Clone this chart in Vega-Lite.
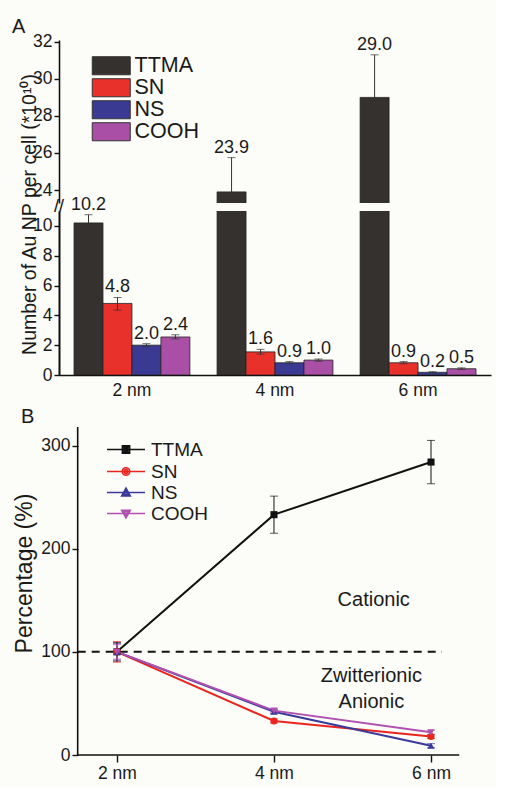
{
  "$schema": "https://vega.github.io/schema/vega-lite/v6.json",
  "background": "#fcfcf8",
  "padding": {"left": 12, "top": 16, "right": 5, "bottom": 5},
  "config": {
    "font": "Liberation Sans",
    "view": {"stroke": null},
    "axis": {
      "labelFont": "Liberation Sans", "titleFont": "Liberation Sans",
      "labelFontSize": 17.5, "titleFontSize": 20, "titleFontWeight": "normal",
      "labelColor": "#1a1a1a", "titleColor": "#1a1a1a",
      "domainColor": "#111111", "tickColor": "#111111",
      "domainWidth": 1.6, "tickWidth": 1.4, "grid": false, "labelOverlap": false
    },
    "legend": {"padding": 0, "labelFont": "Liberation Sans", "labelColor": "#1a1a1a"},
    "title": {"fontWeight": "normal", "font": "Liberation Sans", "color": "#1a1a1a"}
  },
  "datasets": {
    "bars": [
      {"size": "2 nm", "type": "TTMA", "value": 10.2, "lo": 9.7, "hi": 10.75, "label": "10.2"},
      {"size": "2 nm", "type": "SN", "value": 4.8, "lo": 4.35, "hi": 5.2, "label": "4.8"},
      {"size": "2 nm", "type": "NS", "value": 2.0, "lo": 1.9, "hi": 2.1, "label": "2.0"},
      {"size": "2 nm", "type": "COOH", "value": 2.55, "lo": 2.42, "hi": 2.7, "label": "2.4"},
      {"size": "4 nm", "type": "TTMA", "value": 23.9, "lo": 22.0, "hi": 25.75, "label": "23.9"},
      {"size": "4 nm", "type": "SN", "value": 1.55, "lo": 1.4, "hi": 1.72, "label": "1.6"},
      {"size": "4 nm", "type": "NS", "value": 0.82, "lo": 0.76, "hi": 0.9, "label": "0.9"},
      {"size": "4 nm", "type": "COOH", "value": 1.0, "lo": 0.92, "hi": 1.08, "label": "1.0"},
      {"size": "6 nm", "type": "TTMA", "value": 29.0, "lo": 26.85, "hi": 31.3, "label": "29.0"},
      {"size": "6 nm", "type": "SN", "value": 0.82, "lo": 0.76, "hi": 0.9, "label": "0.9"},
      {"size": "6 nm", "type": "NS", "value": 0.18, "lo": 0.14, "hi": 0.22, "label": "0.2"},
      {"size": "6 nm", "type": "COOH", "value": 0.42, "lo": 0.37, "hi": 0.48, "label": "0.5"}
    ],
    "pct": [
      {"size": 2, "type": "TTMA", "pct": 100, "lo": 91, "hi": 109},
      {"size": 2, "type": "SN", "pct": 100, "lo": 90, "hi": 110},
      {"size": 2, "type": "NS", "pct": 100, "lo": 92, "hi": 108},
      {"size": 2, "type": "COOH", "pct": 100, "lo": 93, "hi": 107},
      {"size": 4, "type": "TTMA", "pct": 233, "lo": 215, "hi": 251},
      {"size": 4, "type": "SN", "pct": 33, "lo": 31, "hi": 35},
      {"size": 4, "type": "NS", "pct": 42, "lo": 40, "hi": 44},
      {"size": 4, "type": "COOH", "pct": 43, "lo": 41, "hi": 45},
      {"size": 6, "type": "TTMA", "pct": 284, "lo": 263, "hi": 305},
      {"size": 6, "type": "SN", "pct": 18, "lo": 16, "hi": 20},
      {"size": 6, "type": "NS", "pct": 9, "lo": 7, "hi": 11},
      {"size": 6, "type": "COOH", "pct": 22, "lo": 20, "hi": 24}
    ]
  },
  "bounds": "flush",
  "spacing": 8,
  "resolve": {
    "scale": {"color": "independent", "shape": "independent"},
    "legend": {"color": "independent", "shape": "independent"}
  },
  "vconcat": [
    {
      "width": 432,
      "height": 163,
      "title": {"text": "A", "anchor": "start", "frame": "group", "fontSize": 20, "dx": -47, "offset": -4},
      "data": {"name": "bars"},
      "transform": [{"filter": "datum.value > 20"}],
      "layer": [
        {
          "mark": {"type": "bar", "clip": true, "stroke": "#222222", "strokeWidth": 0.8},
          "encoding": {
            "x": {"field": "size", "type": "nominal", "scale": {"domain": ["2 nm", "4 nm", "6 nm"], "paddingInner": 0.19, "paddingOuter": 0.105}, "axis": null},
            "xOffset": {"field": "type", "type": "nominal", "scale": {"domain": ["TTMA", "SN", "NS", "COOH"]}},
            "y": {"field": "value", "type": "quantitative", "scale": {"domain": [23.3, 32.1], "nice": false, "zero": false},
                  "axis": {"values": [24, 26, 28, 30, 32], "title": null, "tickSize": 5, "labelPadding": 2, "labelOverlap": false}},
            "color": {"field": "type", "type": "nominal",
              "scale": {"domain": ["TTMA", "SN", "NS", "COOH"], "range": ["#35312e", "#e8312a", "#3a3a93", "#a950a6"]},
              "legend": {"orient": "none", "legendX": 41.5, "legendY": 15, "title": null,
                "symbolType": "M-2,-0.95H2V0.95H-2Z", "symbolSize": 361, "symbolStrokeColor": "#333333", "symbolStrokeWidth": 1,
                "labelFontSize": 21.5, "labelOffset": 12.5, "rowPadding": -3.5}}
          }
        },
        {
          "mark": {"type": "rule", "clip": true, "color": "#333333", "strokeWidth": 1},
          "encoding": {
            "x": {"field": "size", "type": "nominal"},
            "xOffset": {"field": "type", "type": "nominal"},
            "y": {"field": "lo", "type": "quantitative"},
            "y2": {"field": "hi"}
          }
        },
        {
          "mark": {"type": "tick", "clip": true, "color": "#333333", "size": 8, "thickness": 1},
          "encoding": {
            "x": {"field": "size", "type": "nominal"},
            "xOffset": {"field": "type", "type": "nominal"},
            "y": {"field": "hi", "type": "quantitative"}
          }
        },
        {
          "mark": {"type": "tick", "clip": true, "color": "#333333", "size": 8, "thickness": 1},
          "encoding": {
            "x": {"field": "size", "type": "nominal"},
            "xOffset": {"field": "type", "type": "nominal"},
            "y": {"field": "lo", "type": "quantitative"}
          }
        },
        {
          "mark": {"type": "text", "fontSize": 18, "baseline": "alphabetic", "dy": -5, "color": "#1a1a1a"},
          "encoding": {
            "x": {"field": "size", "type": "nominal"},
            "xOffset": {"field": "type", "type": "nominal"},
            "y": {"field": "hi", "type": "quantitative"},
            "text": {"field": "label"}
          }
        }
      ]
    },
    {
      "width": 432,
      "height": 164,
      "data": {"name": "bars"},
      "resolve": {"scale": {"y": "independent"}, "axis": {"y": "independent"}},
      "layer": [
        {
          "mark": {"type": "bar", "clip": true, "stroke": "#222222", "strokeWidth": 0.8},
          "encoding": {
            "x": {"field": "size", "type": "nominal", "scale": {"domain": ["2 nm", "4 nm", "6 nm"], "paddingInner": 0.19, "paddingOuter": 0.105},
                  "axis": {"title": null, "ticks": false, "labelPadding": 6, "labelAngle": 0}},
            "xOffset": {"field": "type", "type": "nominal", "scale": {"domain": ["TTMA", "SN", "NS", "COOH"]}},
            "y": {"field": "value", "type": "quantitative", "scale": {"domain": [0, 11], "nice": false},
                  "axis": {"orient": "left", "values": [0, 4, 8], "labelOverlap": false, "title": "Number of Au NP per cell (*10¹⁰)", "titleFontSize": 19.5, "titleY": 3, "titlePadding": 0, "tickSize": 5, "labelPadding": 2, "minExtent": 20}},
            "color": {"field": "type", "type": "nominal",
              "scale": {"domain": ["TTMA", "SN", "NS", "COOH"], "range": ["#35312e", "#e8312a", "#3a3a93", "#a950a6"]},
              "legend": null}
          }
        },
        {
          "mark": {"type": "rule", "clip": true, "color": "#333333", "strokeWidth": 1},
          "encoding": {
            "x": {"field": "size", "type": "nominal"},
            "xOffset": {"field": "type", "type": "nominal"},
            "y": {"field": "lo", "type": "quantitative", "scale": {"domain": [0, 11], "nice": false},
                  "axis": {"orient": "left", "values": [2, 6, 10], "labelOverlap": false, "title": null, "tickSize": 5, "labelPadding": 2}},
            "y2": {"field": "hi"}
          }
        },
        {
          "mark": {"type": "tick", "clip": true, "color": "#333333", "size": 8, "thickness": 1},
          "encoding": {
            "x": {"field": "size", "type": "nominal"},
            "xOffset": {"field": "type", "type": "nominal"},
            "y": {"field": "hi", "type": "quantitative", "scale": {"domain": [0, 11], "nice": false}, "axis": null}
          }
        },
        {
          "mark": {"type": "tick", "clip": true, "color": "#333333", "size": 8, "thickness": 1},
          "encoding": {
            "x": {"field": "size", "type": "nominal"},
            "xOffset": {"field": "type", "type": "nominal"},
            "y": {"field": "lo", "type": "quantitative", "scale": {"domain": [0, 11], "nice": false}, "axis": null}
          }
        },
        {
          "transform": [{"filter": "datum.value < 11"}],
          "mark": {"type": "text", "fontSize": 18, "baseline": "alphabetic", "dy": -5, "color": "#1a1a1a"},
          "encoding": {
            "x": {"field": "size", "type": "nominal"},
            "xOffset": {"field": "type", "type": "nominal"},
            "y": {"field": "hi", "type": "quantitative", "scale": {"domain": [0, 11], "nice": false}, "axis": null},
            "text": {"field": "label"}
          }
        },
        {
          "data": {"values": [{}]},
          "mark": {"type": "text", "text": "//", "fontSize": 18, "baseline": "middle", "dx": -15, "color": "#111111"},
          "encoding": {
            "x": {"datum": "2 nm", "type": "nominal", "bandPosition": 0},
            "y": {"datum": 11.3, "type": "quantitative", "scale": {"domain": [0, 11], "nice": false}, "axis": null}
          }
        }
      ]
    },
    {
      "width": 432,
      "height": 372,
      "title": {"text": "B", "anchor": "start", "frame": "group", "fontSize": 20, "dx": -38, "offset": -44},
      "data": {"name": "pct"},
      "resolve": {"scale": {"shape": "independent"}, "legend": {"shape": "independent"}},
      "layer": [
        {
          "data": {"values": [{}]},
          "mark": {"type": "rule", "strokeDash": [8, 6], "strokeWidth": 2, "color": "#111111"},
          "encoding": {
            "x": {"datum": 1.5, "type": "quantitative", "scale": {"domain": [1.262, 6.764], "nice": false, "zero": false},
                  "axis": {"values": [2, 4, 6], "labelExpr": "datum.value + ' nm'", "domain": false, "tickSize": 7, "labelPadding": 2, "title": null, "labelFlush": false, "labelOverlap": false}},
            "x2": {"datum": 6.14},
            "y": {"datum": 100, "type": "quantitative", "scale": {"domain": [0, 360.66], "nice": false},
                  "axis": {"values": [0, 100, 200, 300], "labelOverlap": false, "offset": -19, "domain": false, "title": "Percentage (%)", "titleFontSize": 23, "titleY": 190, "titlePadding": 4, "tickSize": 6, "labelPadding": 2}}
          }
        },
        {
          "data": {"values": [{}]},
          "mark": {"type": "rule", "strokeWidth": 1.6, "color": "#111111"},
          "encoding": {
            "x": {"datum": 1.5, "type": "quantitative"},
            "x2": {"datum": 6.36},
            "y": {"datum": 0, "type": "quantitative"}
          }
        },
        {
          "data": {"values": [{}]},
          "mark": {"type": "rule", "strokeWidth": 1.6, "color": "#111111"},
          "encoding": {
            "x": {"datum": 1.5, "type": "quantitative"},
            "y": {"datum": 0, "type": "quantitative"},
            "y2": {"datum": 318}
          }
        },
        {
          "mark": {"type": "line", "strokeWidth": 2},
          "encoding": {
            "x": {"field": "size", "type": "quantitative"},
            "y": {"field": "pct", "type": "quantitative"},
            "color": {"field": "type", "type": "nominal",
              "scale": {"domain": ["TTMA", "SN", "NS", "COOH"], "range": ["#111111", "#e8251f", "#3a3a9a", "#b050b0"]}, "legend": null},
            "order": {"field": "size"}
          }
        },
        {
          "mark": {"type": "rule", "strokeWidth": 1},
          "encoding": {
            "x": {"field": "size", "type": "quantitative"},
            "y": {"field": "lo", "type": "quantitative"},
            "y2": {"field": "hi"},
            "color": {"field": "type", "type": "nominal", "legend": null}
          }
        },
        {
          "mark": {"type": "tick", "orient": "horizontal", "size": 8, "thickness": 1},
          "encoding": {
            "x": {"field": "size", "type": "quantitative"},
            "y": {"field": "hi", "type": "quantitative"},
            "color": {"field": "type", "type": "nominal", "legend": null}
          }
        },
        {
          "mark": {"type": "tick", "orient": "horizontal", "size": 8, "thickness": 1},
          "encoding": {
            "x": {"field": "size", "type": "quantitative"},
            "y": {"field": "lo", "type": "quantitative"},
            "color": {"field": "type", "type": "nominal", "legend": null}
          }
        },
        {
          "mark": {"type": "point", "filled": true, "opacity": 1, "size": 50},
          "encoding": {
            "x": {"field": "size", "type": "quantitative"},
            "y": {"field": "pct", "type": "quantitative"},
            "color": {"field": "type", "type": "nominal", "legend": null},
            "shape": {"field": "type", "type": "nominal",
              "scale": {"domain": ["TTMA", "SN", "NS", "COOH"], "range": ["square", "circle", "triangle-up", "triangle-down"]}, "legend": null}
          }
        },
        {
          "transform": [{"filter": "datum.type === 'TTMA'"}],
          "mark": {"type": "point", "filled": false, "opacity": 0, "size": 361, "strokeWidth": 1.6, "color": "#111111", "stroke": "#111111"},
          "encoding": {
            "x": {"field": "size", "type": "quantitative"},
            "y": {"field": "pct", "type": "quantitative"},
            "shape": {"field": "type", "type": "nominal",
              "scale": {"domain": ["TTMA"], "range": ["M-2,0H2M-0.38,-0.38H0.38V0.38H-0.38ZM-0.2,-0.2H0.2V0.2H-0.2ZM-0.05,-0.05H0.05V0.05H-0.05Z"]},
              "legend": {"orient": "none", "legendX": 56.5, "legendY": 56, "title": null, "symbolSize": 361, "symbolOpacity": 1,
                "symbolFillColor": "#111111", "symbolStrokeColor": "#111111",
                "labelFontSize": 19, "labelOffset": 14.5, "symbolStrokeWidth": 1.6}}
          }
        },
        {
          "transform": [{"filter": "datum.type === 'SN'"}],
          "mark": {"type": "point", "filled": false, "opacity": 0, "size": 361, "strokeWidth": 1.6, "color": "#e8251f", "stroke": "#e8251f"},
          "encoding": {
            "x": {"field": "size", "type": "quantitative"},
            "y": {"field": "pct", "type": "quantitative"},
            "shape": {"field": "type", "type": "nominal",
              "scale": {"domain": ["SN"], "range": ["M-2,0H2M0.4,0A0.4,0.4 0 1 1 -0.4,0A0.4,0.4 0 1 1 0.4,0ZM0.2,0A0.2,0.2 0 1 1 -0.2,0A0.2,0.2 0 1 1 0.2,0Z"]},
              "legend": {"orient": "none", "legendX": 56.5, "legendY": 78, "title": null, "symbolSize": 361, "symbolOpacity": 1,
                "symbolFillColor": "#e8251f", "symbolStrokeColor": "#e8251f",
                "labelFontSize": 19, "labelOffset": 14.5, "symbolStrokeWidth": 1.6}}
          }
        },
        {
          "transform": [{"filter": "datum.type === 'NS'"}],
          "mark": {"type": "point", "filled": false, "opacity": 0, "size": 361, "strokeWidth": 1.6, "color": "#3a3a9a", "stroke": "#3a3a9a"},
          "encoding": {
            "x": {"field": "size", "type": "quantitative"},
            "y": {"field": "pct", "type": "quantitative"},
            "shape": {"field": "type", "type": "nominal",
              "scale": {"domain": ["NS"], "range": ["M-2,0H2M0,-0.45L0.45,0.35H-0.45ZM0,-0.157L0.2,0.203H-0.2Z"]},
              "legend": {"orient": "none", "legendX": 56.5, "legendY": 99, "title": null, "symbolSize": 361, "symbolOpacity": 1,
                "symbolFillColor": "#3a3a9a", "symbolStrokeColor": "#3a3a9a",
                "labelFontSize": 19, "labelOffset": 14.5, "symbolStrokeWidth": 1.6}}
          }
        },
        {
          "transform": [{"filter": "datum.type === 'COOH'"}],
          "mark": {"type": "point", "filled": false, "opacity": 0, "size": 361, "strokeWidth": 1.6, "color": "#b050b0", "stroke": "#b050b0"},
          "encoding": {
            "x": {"field": "size", "type": "quantitative"},
            "y": {"field": "pct", "type": "quantitative"},
            "shape": {"field": "type", "type": "nominal",
              "scale": {"domain": ["COOH"], "range": ["M-2,0H2M0,0.45L0.45,-0.35H-0.45ZM0,0.157L0.2,-0.203H-0.2Z"]},
              "legend": {"orient": "none", "legendX": 56.5, "legendY": 120, "title": null, "symbolSize": 361, "symbolOpacity": 1,
                "symbolFillColor": "#b050b0", "symbolStrokeColor": "#b050b0",
                "labelFontSize": 19, "labelOffset": 14.5, "symbolStrokeWidth": 1.6}}
          }
        },
        {
          "data": {"values": [{}]},
          "mark": {"type": "text", "text": "Cationic", "fontSize": 20, "color": "#1a1a1a", "baseline": "middle"},
          "encoding": {"x": {"datum": 5.27, "type": "quantitative"}, "y": {"datum": 150, "type": "quantitative"}}
        },
        {
          "data": {"values": [{}]},
          "mark": {"type": "text", "text": "Zwitterionic", "fontSize": 20, "color": "#1a1a1a", "baseline": "middle"},
          "encoding": {"x": {"datum": 5.24, "type": "quantitative"}, "y": {"datum": 77, "type": "quantitative"}}
        },
        {
          "data": {"values": [{}]},
          "mark": {"type": "text", "text": "Anionic", "fontSize": 20, "color": "#1a1a1a", "baseline": "middle"},
          "encoding": {"x": {"datum": 5.24, "type": "quantitative"}, "y": {"datum": 51.5, "type": "quantitative"}}
        }
      ]
    }
  ]
}
